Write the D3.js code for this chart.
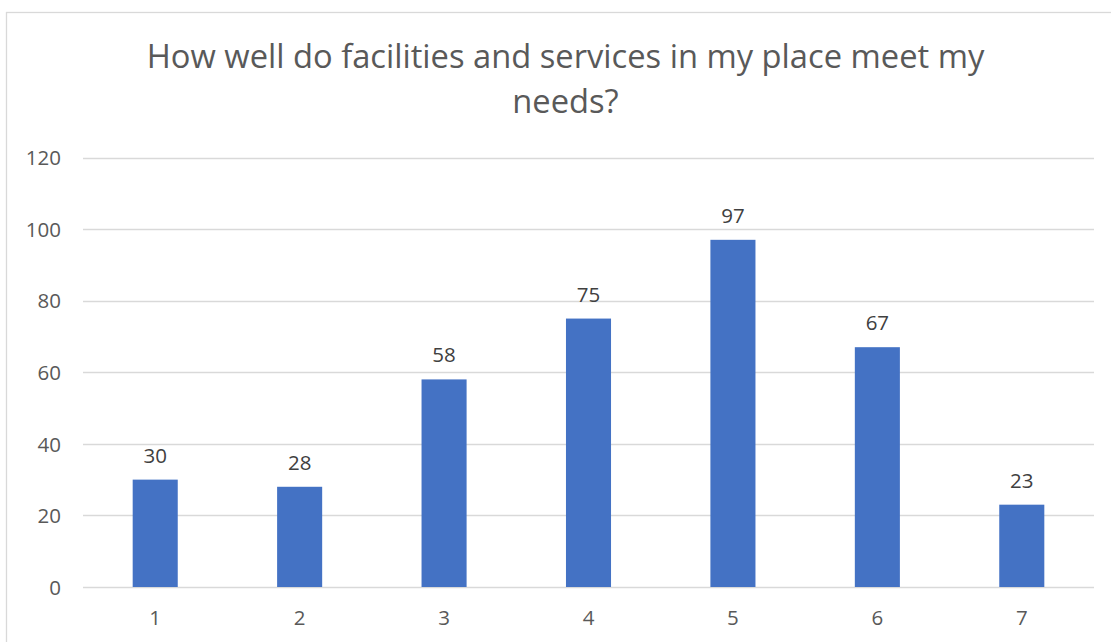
<!DOCTYPE html>
<html><head><meta charset="utf-8">
<script src="https://cdn.jsdelivr.net/npm/d3@7"></script>
<style>html,body{margin:0;padding:0;background:#fff;}svg{display:block;}</style>
</head><body>
<svg id="c" width="1111" height="642"></svg>
<script>
const categories = ["1","2","3","4","5","6","7"];
const values = [30, 28, 58, 75, 97, 67, 23];
const yTicks = [0, 20, 40, 60, 80, 100, 120];
const titleLines = ["How well do facilities and services in my place meet my", "needs?"];

const svg = d3.select("#c");
const font = "'Open Sans', 'Liberation Sans', sans-serif";

svg.append("rect").attr("x", 6.5).attr("y", 12.5).attr("width", 1120).attr("height", 640)
  .attr("fill", "#fff").attr("stroke", "#D9D9D9").attr("stroke-width", 1.3);

const x = d3.scaleBand().domain(categories).range([83, 1094]).paddingInner(0.688).paddingOuter(0.344);
const y = d3.scaleLinear().domain([0, 120]).range([587, 157.5]);

// gridlines
svg.append("g").selectAll("line").data(yTicks).join("line")
  .attr("x1", 83).attr("x2", 1094)
  .attr("y1", d => Math.round(y(d)) + 0.5).attr("y2", d => Math.round(y(d)) + 0.5)
  .attr("stroke", "#D9D9D9").attr("stroke-width", 1.3);

// y axis labels
const yAxis = d3.axisLeft(y).tickValues(yTicks).tickSize(0).tickPadding(0);
const yg = svg.append("g").attr("transform", "translate(61,0)").call(yAxis);
yg.select(".domain").remove();
yg.selectAll("text").attr("font-family", font).attr("font-size", 20.5).attr("fill", "#595959").attr("dy", "0.35em");

// x axis labels
const xAxis = d3.axisBottom(x).tickSize(0).tickPadding(0);
const xg = svg.append("g").attr("transform", "translate(0,610)").call(xAxis);
xg.select(".domain").remove();
xg.selectAll("text").attr("font-family", font).attr("font-size", 20.5).attr("fill", "#595959");

// bars
svg.append("g").selectAll("rect").data(values).join("rect")
  .attr("x", (d, i) => x(categories[i]))
  .attr("width", x.bandwidth())
  .attr("y", d => y(d))
  .attr("height", d => y(0) - y(d))
  .attr("fill", "#4472C4");

// data labels
svg.append("g").selectAll("text").data(values).join("text")
  .attr("x", (d, i) => x(categories[i]) + x.bandwidth() / 2)
  .attr("y", d => y(d) - 17)
  .attr("text-anchor", "middle")
  .attr("font-family", font).attr("font-size", 20.5).attr("fill", "#404040")
  .text(d => d);

// title
svg.append("g").selectAll("text").data(titleLines).join("text")
  .attr("x", 565.5).attr("y", (d, i) => 68 + i * 45)
  .attr("text-anchor", "middle")
  .attr("font-family", font).attr("font-size", 32.7).attr("fill", "#595959")
  .text(d => d);
</script>
</body></html>
